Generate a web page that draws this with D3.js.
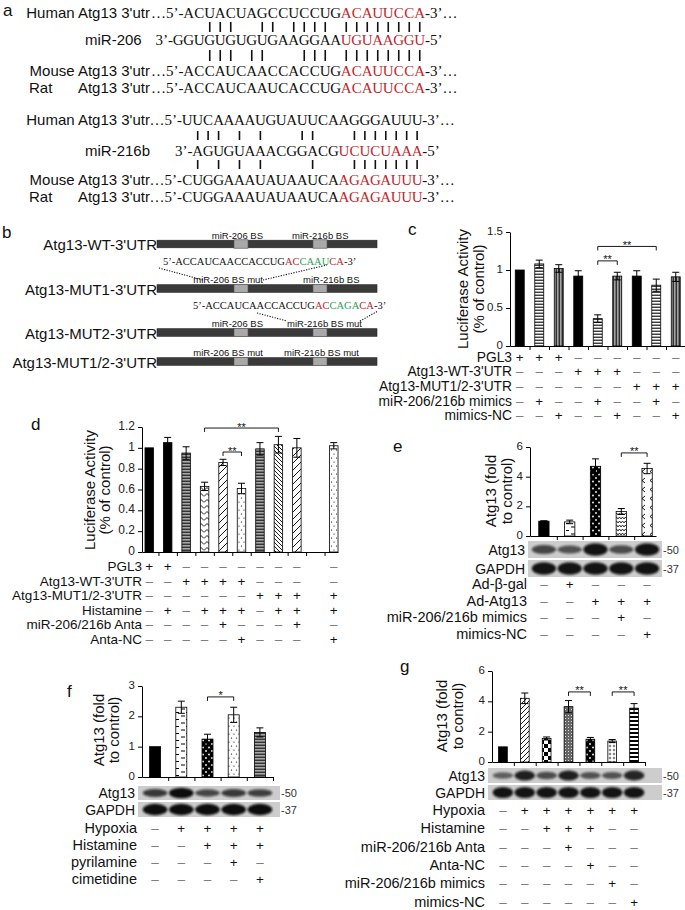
<!DOCTYPE html>
<html>
<head>
<meta charset="utf-8">
<script src="https://cdn.jsdelivr.net/npm/d3@7"></script>
<style>
body { margin: 0; background: #fff; }
</style>
</head>
<body>
<script>
var W = 685, H = 910;
var sans = '"Liberation Sans", Arial, sans-serif';
var serif = '"Liberation Serif", "Times New Roman", serif';
var RED = "#c1272d", GREEN = "#25a457", INK = "#111";

// ---------- panel a : sequence alignments
var a206Rows = [
  {label: "Human Atg13 3'utr", pre: "…5’-", seq: "ACUACUAGCCUCCUG", seed: "ACAUUCCA", post: "-3’…", col: 0},
  {label: "miR-206", mir: true, pre: "3’-", seq: "GGUGUGUGUGAAGGAA", seed: "UGUAAGGU", post: "-5’", col: -1},
  {label: "Mouse Atg13 3'utr", pre: "…5’-", seq: "ACCAUCAACCACCUG", seed: "ACAUUCCA", post: "-3’…", col: 0},
  {label: "Atg13 3'utr", sp: "Rat", pre: "…5’-", seq: "ACCAUCAAUCACCUG", seed: "ACAUUCCA", post: "-3’…", col: 0}
];
var a206Pairs = ["  |||  || |||| ||||||||", "  ||| ||   ||| ||||||||"];
var a216Rows = [
  {label: "Human Atg13 3'utr", pre: "…5’-", seq: "UUCAAAAUGUAUUCAAGGGAUUU", seed: "", post: "-3’…", col: 0},
  {label: "miR-216b", mir: true, pre: "3’-", seq: "AGUGUAAACGGACG", seed: "UCUCUAAA", post: "-5’", col: 1},
  {label: "Mouse Atg13 3'utr", pre: "…5’-", seq: "CUGGAAAUAUAAUCA", seed: "AGAGAUUU", post: "-3’…", col: 0},
  {label: "Atg13 3'utr", sp: "Rat", pre: "…5’-", seq: "CUGGAAAUAUAAUCA", seed: "AGAGAUUU", post: "-3’…", col: 0}
];
var a216Pairs = [" ||| | |   ||   |||||||", " | | | |    |   |||||||"];

// ---------- panel b : constructs
var bConstructs = ["Atg13-WT-3'UTR", "Atg13-MUT1-3'UTR", "Atg13-MUT2-3'UTR", "Atg13-MUT1/2-3'UTR"];
var b206Labels = ["miR-206 BS", "miR-206 BS mut", "miR-206 BS", "miR-206 BS mut"];
var b216Labels = ["miR-216b BS", "miR-216b BS", "miR-216b BS mut", "miR-216b BS mut"];
var bMutSeqs = [null, ["5’-ACCAUCAACCACCUG", "AC", "CAAU", "CA", "-3’"],
                ["5’-ACCAUCAACCACCUG", "AC", "CAGA", "CA", "-3’"], null];

// ---------- panel c
var cValues = [1.00, 1.08, 1.02, 0.92, 0.36, 0.92, 0.92, 0.80, 0.91];
var cErrors = [0.00, 0.05, 0.05, 0.07, 0.05, 0.05, 0.07, 0.08, 0.06];
var cFills = ["solid", "hstripe", "vstripeGray", "solid", "hstripe", "vstripeGray", "solid", "hstripe", "vstripeGray"];
var cTicks = [0, 0.5, 1, 1.5];
var cRows = ["PGL3", "Atg13-WT-3'UTR", "Atg13-MUT1/2-3'UTR", "miR-206/216b mimics", "mimics-NC"];
var cSigns = ["+++------", "---+++---", "------+++", "-+--+--+-", "--+--+--+"];
var cBrackets = [{a: 4, b: 5, y: 1.12, t: "**"}, {a: 4, b: 7, y: 1.31, t: "**"}];

// ---------- panel d
var dValues = [1.00, 1.05, 0.95, 0.63, 0.86, 0.61, 0.99, 1.03, 1.00, 1.02];
var dErrors = [0.00, 0.05, 0.06, 0.04, 0.03, 0.05, 0.06, 0.08, 0.09, 0.03];
var dSlots = [0, 1, 2, 3, 4, 5, 6, 7, 8, 10];
var dFills = ["solid", "solid", "hstripeGray", "zigzag", "diagSparse", "dots", "hstripeGray", "diagDense", "diagSparse", "dots"];
var dTicks = [0, 0.2, 0.4, 0.6, 0.8, 1, 1.2];
var dRows = ["PGL3", "Atg13-WT-3'UTR", "Atg13-MUT1/2-3'UTR", "Histamine", "miR-206/216b Anta", "Anta-NC"];
var dSigns = ["++--------", "--++++----", "------++++", "-+-+++-+++", "----+---+-", "-----+---+"];
var dBrackets = [{a: 4, b: 5, y: 0.96, t: "**"}, {a: 3, b: 7, y: 1.19, t: "**"}];

// ---------- panel e
var eValues = [1.00, 0.95, 4.70, 1.65, 4.55];
var eErrors = [0.03, 0.12, 0.50, 0.20, 0.35];
var eFills = ["solid", "dash", "blackDots", "wave", "chevron"];
var eTicks = [0, 2, 4, 6];
var eAtg13 = [0.55, 0.45, 0.95, 0.50, 0.95];
var eGapdh = [0.95, 0.95, 0.95, 0.95, 0.95];
var eRows = ["Ad-β-gal", "Ad-Atg13", "miR-206/216b mimics", "mimics-NC"];
var eSigns = ["-+---", "--+++", "---+-", "----+"];
var eBrackets = [{a: 3, b: 4, y: 5.6, t: "**"}];

// ---------- panel f
var fValues = [1.00, 2.30, 1.25, 2.05, 1.47];
var fErrors = [0.00, 0.20, 0.16, 0.25, 0.15];
var fFills = ["solid", "dash", "blackDots", "dots", "hstripeGray"];
var fTicks = [0, 1, 2, 3];
var fAtg13 = [0.65, 1.00, 0.55, 0.65, 0.60];
var fGapdh = [1, 1, 1, 1, 1];
var fRows = ["Hypoxia", "Histamine", "pyrilamine", "cimetidine"];
var fSigns = ["-++++", "--+++", "---+-", "----+"];
var fBrackets = [{a: 2, b: 3, y: 2.64, t: "*"}];

// ---------- panel g
var gValues = [1.00, 4.20, 1.55, 3.65, 1.50, 1.38, 3.55];
var gErrors = [0.00, 0.35, 0.10, 0.40, 0.12, 0.10, 0.30];
var gFills = ["solid", "fdiag", "checker", "plaid", "blackDots", "diamond", "hstripeWide"];
var gTicks = [0, 2, 4, 6];
var gAtg13 = [0.35, 0.85, 0.50, 0.85, 0.45, 0.45, 0.80];
var gGapdh = [0.95, 0.95, 0.95, 0.95, 0.95, 0.95, 0.95];
var gRows = ["Hypoxia", "Histamine", "miR-206/216b Anta", "Anta-NC", "miR-206/216b mimics", "mimics-NC"];
var gSigns = ["-++++++", "--+++--", "---+---", "----+--", "-----+-", "------+"];
var gBrackets = [{a: 3, b: 4, y: 4.62, t: "**"}, {a: 5, b: 6, y: 4.62, t: "**"}];


var svg = d3.select("body").append("svg")
  .attr("width", W).attr("height", H)
  .attr("font-family", sans);
svg.append("rect").attr("width", W).attr("height", H).attr("fill", "#fff");

// ---------- patterns
var defs = svg.append("defs");
function pattern(id, w, h, bg)
{
  var p = defs.append("pattern").attr("id", id)
    .attr("patternUnits", "userSpaceOnUse").attr("width", w).attr("height", h);
  p.append("rect").attr("width", w).attr("height", h).attr("fill", bg);
  return p;
}
function strokeP(p, d, sw) { p.append("path").attr("d", d).attr("stroke", "#000").attr("stroke-width", sw).attr("fill", "none"); }

strokeP(pattern("hstripe", 4, 3, "#fff"), "M0,1.2H4", 1.1);
strokeP(pattern("vstripeGray", 3, 4, "#a3a3a3"), "M1.2,0V4", 1);
strokeP(pattern("hstripeGray", 4, 3, "#a8a8a8"), "M0,1.2H4", 1);
strokeP(pattern("zigzag", 6, 6, "#fff"), "M0,4.5L3,1.5L6,4.5", 0.9);
strokeP(pattern("diagSparse", 7, 7, "#fff"), "M-1,1L1,-1M0,7L7,0M6,8L8,6", 0.9);
strokeP(pattern("diagDense", 4, 4, "#fff"), "M0,0L4,4M-1,3L1,5M3,-1L5,1", 0.9);
strokeP(pattern("fdiag", 5, 5, "#fff"), "M0,5L5,0M-1,1L1,-1M4,6L6,4", 0.9);
strokeP(pattern("dash", 10, 7, "#fff"), "M1,2h4M6,5.5h3", 1);
strokeP(pattern("wave", 6, 4, "#fff"), "M0,3L1.5,1L3,3L4.5,1L6,3", 0.8);
strokeP(pattern("chevron", 8, 9, "#fff"), "M5,1L2,3.5L5,6", 0.9);
var pDots = pattern("dots", 5, 8, "#fff");
pDots.append("circle").attr("cx", 1.5).attr("cy", 2).attr("r", 0.6).attr("fill", "#000");
pDots.append("circle").attr("cx", 4).attr("cy", 6).attr("r", 0.6).attr("fill", "#000");
var pBD = pattern("blackDots", 6, 7, "#000");
pBD.append("circle").attr("cx", 2).attr("cy", 2).attr("r", 0.9).attr("fill", "#fff");
pBD.append("circle").attr("cx", 5).attr("cy", 5.5).attr("r", 0.9).attr("fill", "#fff");
var pCh = pattern("checker", 8, 8, "#fff");
pCh.append("rect").attr("width", 4).attr("height", 4).attr("fill", "#000");
pCh.append("rect").attr("x", 4).attr("y", 4).attr("width", 4).attr("height", 4).attr("fill", "#000");
pattern("plaid", 3, 3, "#666").append("rect").attr("x", 1).attr("y", 1).attr("width", 1).attr("height", 1).attr("fill", "#ddd");
pattern("diamond", 4, 4, "#fff").append("path").attr("d", "M2,0.5L3.5,2L2,3.5L0.5,2Z").attr("fill", "#777");
pattern("hstripeWide", 4, 4, "#fff").append("rect").attr("width", 4).attr("height", 2).attr("fill", "#000");

defs.append("filter").attr("id", "blur").attr("x", "-30%").attr("y", "-60%")
  .attr("width", "160%").attr("height", "220%")
  .append("feGaussianBlur").attr("stdDeviation", 1.3);

// ---------- panel letters
var letters = [["a", 3, 16], ["b", 2, 238], ["c", 408, 235], ["d", 31, 430], ["e", 393, 452], ["f", 67, 697], ["g", 400, 672]];
svg.selectAll(".letter").data(letters).enter().append("text")
  .attr("x", d => d[1]).attr("y", d => d[2]).attr("font-size", 17).attr("fill", INK).text(d => d[0]);


// ---------- panel a drawing
function seqBlock(rows, pairs, x0, pitch, baselines, pairY)
{
  var g = svg.append("g");
  rows.forEach(function (r, k)
  {
    var yb = baselines[k];
    if (r.sp) {g.append("text").attr("x", 29).attr("y", yb).attr("font-size", 15).attr("fill", INK).text(r.sp);}
    var lab = g.append("text").attr("y", yb).attr("font-size", 15).attr("fill", INK).text(r.label);
    if (r.mir) {lab.attr("x", 85);}
    else {lab.attr("x", 150).attr("text-anchor", "end");}

    var chars = (r.seq + r.seed).split("");
    g.append("text").attr("x", x0 + r.col * pitch).attr("y", yb).attr("text-anchor", "end")
      .attr("font-family", serif).attr("font-size", 15).attr("fill", INK).text(r.pre);
    g.selectAll(null).data(chars).enter().append("text")
      .attr("x", (d, i) => x0 + (r.col + i + 0.5) * pitch)
      .attr("y", yb).attr("text-anchor", "middle")
      .attr("font-family", serif).attr("font-size", 15)
      .attr("fill", (d, i) => i >= r.seq.length ? RED : INK)
      .text(d => d);
    g.append("text").attr("x", x0 + (r.col + chars.length) * pitch).attr("y", yb)
      .attr("font-family", serif).attr("font-size", 15).attr("fill", INK).text(r.post);
  });

  pairs.forEach(function (pat, k)
  {
    var cols = [];
    pat.split("").forEach(function (c, j) { if (c === "|") cols.push(j); });
    g.selectAll(null).data(cols).enter().append("line")
      .attr("x1", j => x0 + (j + 0.5) * pitch).attr("x2", j => x0 + (j + 0.5) * pitch)
      .attr("y1", pairY[k][0]).attr("y2", pairY[k][1])
      .attr("stroke", INK).attr("stroke-width", 1.6);
  });
}
seqBlock(a206Rows, a206Pairs, 183.5, 10.5, [17.5, 45, 76, 93], [[22, 32], [50, 61]]);
seqBlock(a216Rows, a216Pairs, 182, 10.45, [125, 156, 185, 202], [[131, 140], [160, 169]]);


// ---------- panel b drawing
(function ()
{
  var g = svg.append("g");
  var rowY = [244, 288.5, 332.5, 361.5];
  var bx = [157, 377], sq1 = [234, 248], sq2 = [313, 327];
  var lab216X = [292, 303, 287, 284];
  bConstructs.forEach(function (name, k)
  {
    var cy = rowY[k];
    g.append("text").attr("x", bx[0]).attr("y", cy + 6).attr("text-anchor", "end")
      .attr("font-size", 15).attr("fill", INK).text(name);
    g.append("rect").attr("x", bx[0]).attr("y", cy - 3.8).attr("width", bx[1] - bx[0]).attr("height", 7.6)
      .attr("fill", "#3a3a3a").attr("stroke", "#222").attr("stroke-width", 0.6);
    [sq1, sq2].forEach(function (s)
    {
      g.append("rect").attr("x", s[0]).attr("y", cy - 4.2).attr("width", s[1] - s[0]).attr("height", 8.4)
        .attr("fill", "#a9a9a9").attr("stroke", "#555").attr("stroke-width", 0.6);
    });
    g.append("text").attr("x", 263).attr("y", cy - 5.5).attr("text-anchor", "end")
      .attr("font-size", 9.5).attr("fill", INK).text(b206Labels[k]);
    g.append("text").attr("x", lab216X[k]).attr("y", cy - 5.5)
      .attr("font-size", 9.5).attr("fill", INK).text(b216Labels[k]);
  });

  var seqPos = [null, [163, 265], [193, 309], null];
  var segCol = [INK, RED, GREEN, RED, INK];
  bMutSeqs.forEach(function (parts, k)
  {
    if (!parts) return;
    var t = g.append("text").attr("x", seqPos[k][0]).attr("y", seqPos[k][1])
      .attr("font-family", serif).attr("font-size", 10.5);
    parts.forEach(function (p, i) { t.append("tspan").attr("fill", segCol[i]).text(p); });
  });

  var dots = [[[159, 268], [203, 280]], [[263, 280], [327, 265]],
              [[257, 313], [287, 321]], [[360, 321], [378, 311]]];
  g.selectAll(null).data(dots).enter().append("line")
    .attr("x1", d => d[0][0]).attr("y1", d => d[0][1]).attr("x2", d => d[1][0]).attr("y2", d => d[1][1])
    .attr("stroke", INK).attr("stroke-width", 1.1).attr("stroke-dasharray", "1.2,1.4");
})();


// ---------- bar panels
var blotCount = 0;
function barPanel(p)
{
  var g = svg.append("g");
  var x = d3.scaleBand().domain(d3.range(p.slots)).range(p.xRange)
    .paddingInner(p.pad).paddingOuter(p.pad / 2);
  var y = d3.scaleLinear().domain(p.yDomain).range(p.yRange);
  var slotOf = function (i) { return p.slotIdx ? p.slotIdx[i] : i; };
  var cx = function (i) { return x(slotOf(i)) + x.bandwidth() / 2; };

  // bars
  g.selectAll(".bar").data(p.values).enter().append("rect")
    .attr("x", (d, i) => x(slotOf(i)))
    .attr("y", d => y(d))
    .attr("width", x.bandwidth())
    .attr("height", d => y(0) - y(d))
    .attr("fill", (d, i) => p.fills[i] === "solid" ? "#000" : "url(#" + p.fills[i] + ")")
    .attr("stroke", "#000").attr("stroke-width", 0.8);

  // error bars
  var errs = p.values.map((v, i) => ({v: v, e: p.errors[i], i: i})).filter(d => d.e > 0);
  var cap = 3.5;
  var eb = g.selectAll(".err").data(errs).enter().append("g")
    .attr("stroke", "#000").attr("stroke-width", 1);
  eb.append("line").attr("x1", d => cx(d.i)).attr("x2", d => cx(d.i))
    .attr("y1", d => y(d.v - d.e)).attr("y2", d => y(d.v + d.e));
  eb.append("line").attr("x1", d => cx(d.i) - cap).attr("x2", d => cx(d.i) + cap)
    .attr("y1", d => y(d.v + d.e)).attr("y2", d => y(d.v + d.e));
  eb.append("line").attr("x1", d => cx(d.i) - cap).attr("x2", d => cx(d.i) + cap)
    .attr("y1", d => y(d.v - d.e)).attr("y2", d => y(d.v - d.e));

  // y axis
  var ya = g.append("g").attr("transform", "translate(" + p.axisX[0] + ",0)")
    .call(d3.axisLeft(y).tickValues(p.ticks).tickSize(4).tickSizeOuter(0).tickPadding(3)
      .tickFormat(d => String(d)));
  ya.attr("font-family", sans).attr("font-size", p.tickFont);
  ya.selectAll("text").attr("fill", "#222").attr("dy", "0.22em");

  // x axis with ticks between categories
  var bounds = d3.range(1, p.slots + 1).map(k => p.xRange[0] + k * x.step())
    .filter(v => v <= p.axisX[1] + 1);
  var xl = d3.scaleLinear().domain(p.axisX).range(p.axisX);
  g.append("g").attr("transform", "translate(0," + y(0) + ")")
    .call(d3.axisBottom(xl).tickValues(bounds).tickFormat("").tickSize(4).tickSizeOuter(0));

  // significance brackets
  p.brackets.forEach(function (b)
  {
    var yb = y(b.y), x1 = cx(b.a), x2 = cx(b.b);
    g.append("path").attr("d", "M" + x1 + "," + (yb + 4) + "V" + yb + "H" + x2 + "V" + (yb + 4))
      .attr("fill", "none").attr("stroke", "#000").attr("stroke-width", 0.9);
    g.append("text").attr("x", (x1 + x2) / 2).attr("y", yb + 2.5).attr("text-anchor", "middle")
      .attr("font-size", 11).attr("fill", INK).text(b.t);
  });

  // y title
  p.title.forEach(function (t, k)
  {
    g.append("text").attr("transform", "translate(" + p.titleX[k] + "," + p.titleY + ") rotate(-90)")
      .attr("text-anchor", "middle").attr("font-size", 15).attr("fill", INK).text(t);
  });

  // blots
  (p.blots || []).forEach(function (b)
  {
    blotCount += 1;
    var id = "blotclip" + blotCount;
    defs.append("clipPath").attr("id", id).append("rect")
      .attr("x", p.blotX[0]).attr("y", b.y).attr("width", p.blotX[1] - p.blotX[0]).attr("height", b.h);
    var bg = g.append("g").attr("clip-path", "url(#" + id + ")");
    bg.append("rect").attr("x", p.blotX[0]).attr("y", b.y)
      .attr("width", p.blotX[1] - p.blotX[0]).attr("height", b.h).attr("fill", "#cdcdcd");
    bg.selectAll(null).data(b.vals).enter().append("ellipse")
      .attr("cx", (d, i) => cx(i)).attr("cy", b.y + b.h / 2)
      .attr("rx", x.step() * 0.47).attr("ry", d => b.h * (0.12 + 0.26 * d))
      .attr("fill", "#0c0c0c").attr("opacity", d => 0.35 + 0.65 * d)
      .attr("filter", "url(#blur)");
    g.append("text").attr("x", p.blotX[0] - 3).attr("y", b.y + b.h / 2 + 5)
      .attr("font-size", 14).attr("fill", INK).text(b.name).attr("text-anchor", "end");
    g.append("text").attr("x", p.blotX[1] + 1).attr("y", b.y + b.h / 2 + 4)
      .attr("font-size", 11).attr("fill", "#333").text("-" + b.kda);
  });

  // condition table
  p.rows.forEach(function (lab, k)
  {
    var yb = p.tableY[k];
    g.append("text").attr("x", p.tableX).attr("y", yb).attr("text-anchor", "end")
      .attr("font-size", p.tableFont).attr("fill", INK).text(lab);
    g.selectAll(null).data(p.signs[k].split("")).enter().append("text")
      .attr("x", (d, i) => cx(i)).attr("y", yb).attr("text-anchor", "middle")
      .attr("font-size", 13.5)
      .attr("fill", d => d === "+" ? INK : "#777")
      .text(d => d === "+" ? "+" : "–");
  });
}

barPanel({
  values: cValues, errors: cErrors, fills: cFills, slots: 9,
  xRange: [510, 685.5], pad: 0.54, axisX: [510, 685],
  yDomain: [0, 1.5], yRange: [346, 232], ticks: cTicks, tickFont: 11.5,
  brackets: cBrackets,
  title: ["Luciferase Activity", "(% of control)"], titleX: [468, 484], titleY: 289,
  rows: cRows, signs: cSigns, tableX: 512, tableY: [361.5, 376, 391, 405.5, 420], tableFont: 13.8
});

barPanel({
  values: dValues, errors: dErrors, fills: dFills, slots: 11, slotIdx: dSlots,
  xRange: [140, 343], pad: 0.54, axisX: [142, 338],
  yDomain: [0, 1.2], yRange: [552, 427], ticks: dTicks, tickFont: 12,
  brackets: dBrackets,
  title: ["Luciferase Activity", "(% of control)"], titleX: [95, 110], titleY: 490,
  rows: dRows, signs: dSigns, tableX: 142, tableY: [571, 585.5, 600, 614.5, 629, 643.5], tableFont: 13.5
});

barPanel({
  values: eValues, errors: eErrors, fills: eFills, slots: 5,
  xRange: [531, 660], pad: 0.6, axisX: [530, 656],
  yDomain: [0, 6], yRange: [536, 447], ticks: eTicks, tickFont: 11.5,
  brackets: eBrackets,
  title: ["Atg13 (fold", "to control)"], titleX: [496, 512], titleY: 491,
  blotX: [528, 662],
  blots: [{name: "Atg13", kda: "50", y: 541, h: 17, vals: eAtg13},
          {name: "GAPDH", kda: "37", y: 560, h: 17, vals: eGapdh}],
  rows: eRows, signs: eSigns, tableX: 527, tableY: [589, 605.5, 622, 638.5], tableFont: 14.5
});

barPanel({
  values: fValues, errors: fErrors, fills: fFills, slots: 5,
  xRange: [142, 273], pad: 0.58, axisX: [142, 273],
  yDomain: [0, 3], yRange: [777, 686], ticks: fTicks, tickFont: 11.5,
  brackets: fBrackets,
  title: ["Atg13 (fold", "to control)"], titleX: [104, 119], titleY: 730,
  blotX: [138, 280],
  blots: [{name: "Atg13", kda: "50", y: 786, h: 14, vals: fAtg13},
          {name: "GAPDH", kda: "37", y: 802, h: 15, vals: fGapdh}],
  rows: fRows, signs: fSigns, tableX: 137, tableY: [833, 850, 867, 884], tableFont: 14.5
});

barPanel({
  values: gValues, errors: gErrors, fills: gFills, slots: 7,
  xRange: [492, 645], pad: 0.6, axisX: [492, 645],
  yDomain: [0, 6], yRange: [762, 671], ticks: gTicks, tickFont: 11.5,
  brackets: gBrackets,
  title: ["Atg13 (fold", "to control)"], titleX: [447, 463], titleY: 716,
  blotX: [488, 662],
  blots: [{name: "Atg13", kda: "50", y: 768, h: 15, vals: gAtg13},
          {name: "GAPDH", kda: "37", y: 785, h: 15, vals: gGapdh}],
  rows: gRows, signs: gSigns, tableX: 485, tableY: [815, 833, 852, 870, 888, 907], tableFont: 14.5
});
</script>
</body>
</html>
